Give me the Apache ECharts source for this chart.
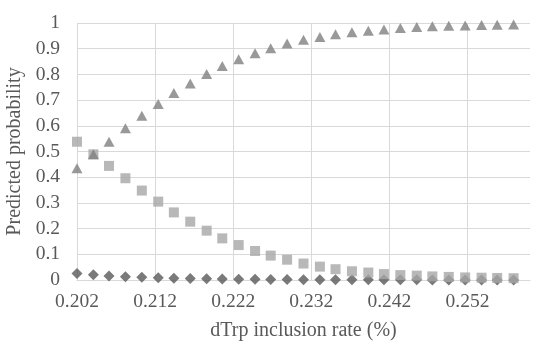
<!DOCTYPE html>
<html>
<head>
<meta charset="utf-8">
<script src="https://cdn.jsdelivr.net/npm/echarts@6/dist/echarts.min.js"></script>
<style>html,body{margin:0;padding:0;background:#fff;}#c{width:541px;height:350px;}</style>
</head>
<body>
<div id="c"></div>
<script>
const xValues = [0.2020,0.2041,0.2061,0.2082,0.2103,0.2124,0.2144,0.2165,0.2186,0.2206,0.2227,0.2248,0.2268,0.2289,0.2310,0.2331,0.2351,0.2372,0.2393,0.2413,0.2434,0.2455,0.2475,0.2496,0.2517,0.2538,0.2558,0.2579];
const diamondValues = [0.025,0.020,0.016,0.013,0.011,0.009,0.007,0.006,0.005,0.004,0.003,0.003,0.002,0.002,0.001,0.001,0.001,0.001,0.001,0.0005,0.0005,0.0005,0.0003,0.0003,0.0002,0.0002,0.0001,0.0001];
const squareValues = [0.538,0.489,0.444,0.396,0.348,0.305,0.263,0.227,0.192,0.162,0.136,0.113,0.095,0.079,0.064,0.052,0.042,0.034,0.029,0.023,0.019,0.017,0.014,0.012,0.010,0.009,0.008,0.007];
const triangleValues = [0.435,0.489,0.538,0.590,0.639,0.685,0.728,0.765,0.802,0.833,0.859,0.882,0.902,0.920,0.935,0.946,0.956,0.964,0.970,0.975,0.981,0.984,0.987,0.989,0.990,0.992,0.993,0.994];
const xTitle = 'dTrp inclusion rate (%)';
const yTitle = 'Predicted probability';

const pair = (ys) => xValues.map((x, i) => [x, ys[i]]);
const font = "'Liberation Serif','Times New Roman',serif";
const txt = '#595959';
const chart = echarts.init(document.getElementById('c'), null, {renderer: 'canvas'});
chart.setOption({
  animation: false,
  backgroundColor: '#fff',
  grid: {left: 77, right: 11, top: 23, bottom: 70, containLabel: false, outerBoundsMode: 'none'},
  xAxis: {
    type: 'value', min: 0.202, max: 0.26, interval: 0.01,
    name: xTitle, nameLocation: 'middle', nameGap: 41,
    nameTextStyle: {fontFamily: font, fontSize: 20, color: txt},
    axisLine: {show: true, lineStyle: {color: '#d9d9d9', width: 1}},
    axisTick: {show: false},
    axisLabel: {fontFamily: font, fontSize: 19.5, color: txt, margin: 12, showMaxLabel: false,
      formatter: v => v.toFixed(3)},
    splitLine: {show: true, showMaxLine: false, lineStyle: {color: '#d9d9d9', width: 1}}
  },
  yAxis: {
    type: 'value', min: 0, max: 1, interval: 0.1,
    name: yTitle, nameLocation: 'middle', nameGap: 44,
    nameTextStyle: {fontFamily: font, fontSize: 20, color: txt},
    axisLine: {show: false},
    axisTick: {show: false},
    axisLabel: {fontFamily: font, fontSize: 19.5, color: txt, margin: 17,
      formatter: v => String(Math.round(v * 10) / 10)},
    splitLine: {show: true, lineStyle: {color: '#d9d9d9', width: 1}}
  },
  series: [
    {type: 'scatter', data: pair(diamondValues), symbol: 'diamond', symbolSize: [11, 11],
      itemStyle: {color: '#595959'}},
    {type: 'scatter', data: pair(squareValues), symbol: 'rect', symbolSize: 10,
      itemStyle: {color: '#a6a6a6'}},
    {type: 'scatter', data: pair(triangleValues), symbol: 'triangle', symbolSize: [11, 10],
      itemStyle: {color: '#808080'}}
  ]
});
</script>
</body>
</html>
